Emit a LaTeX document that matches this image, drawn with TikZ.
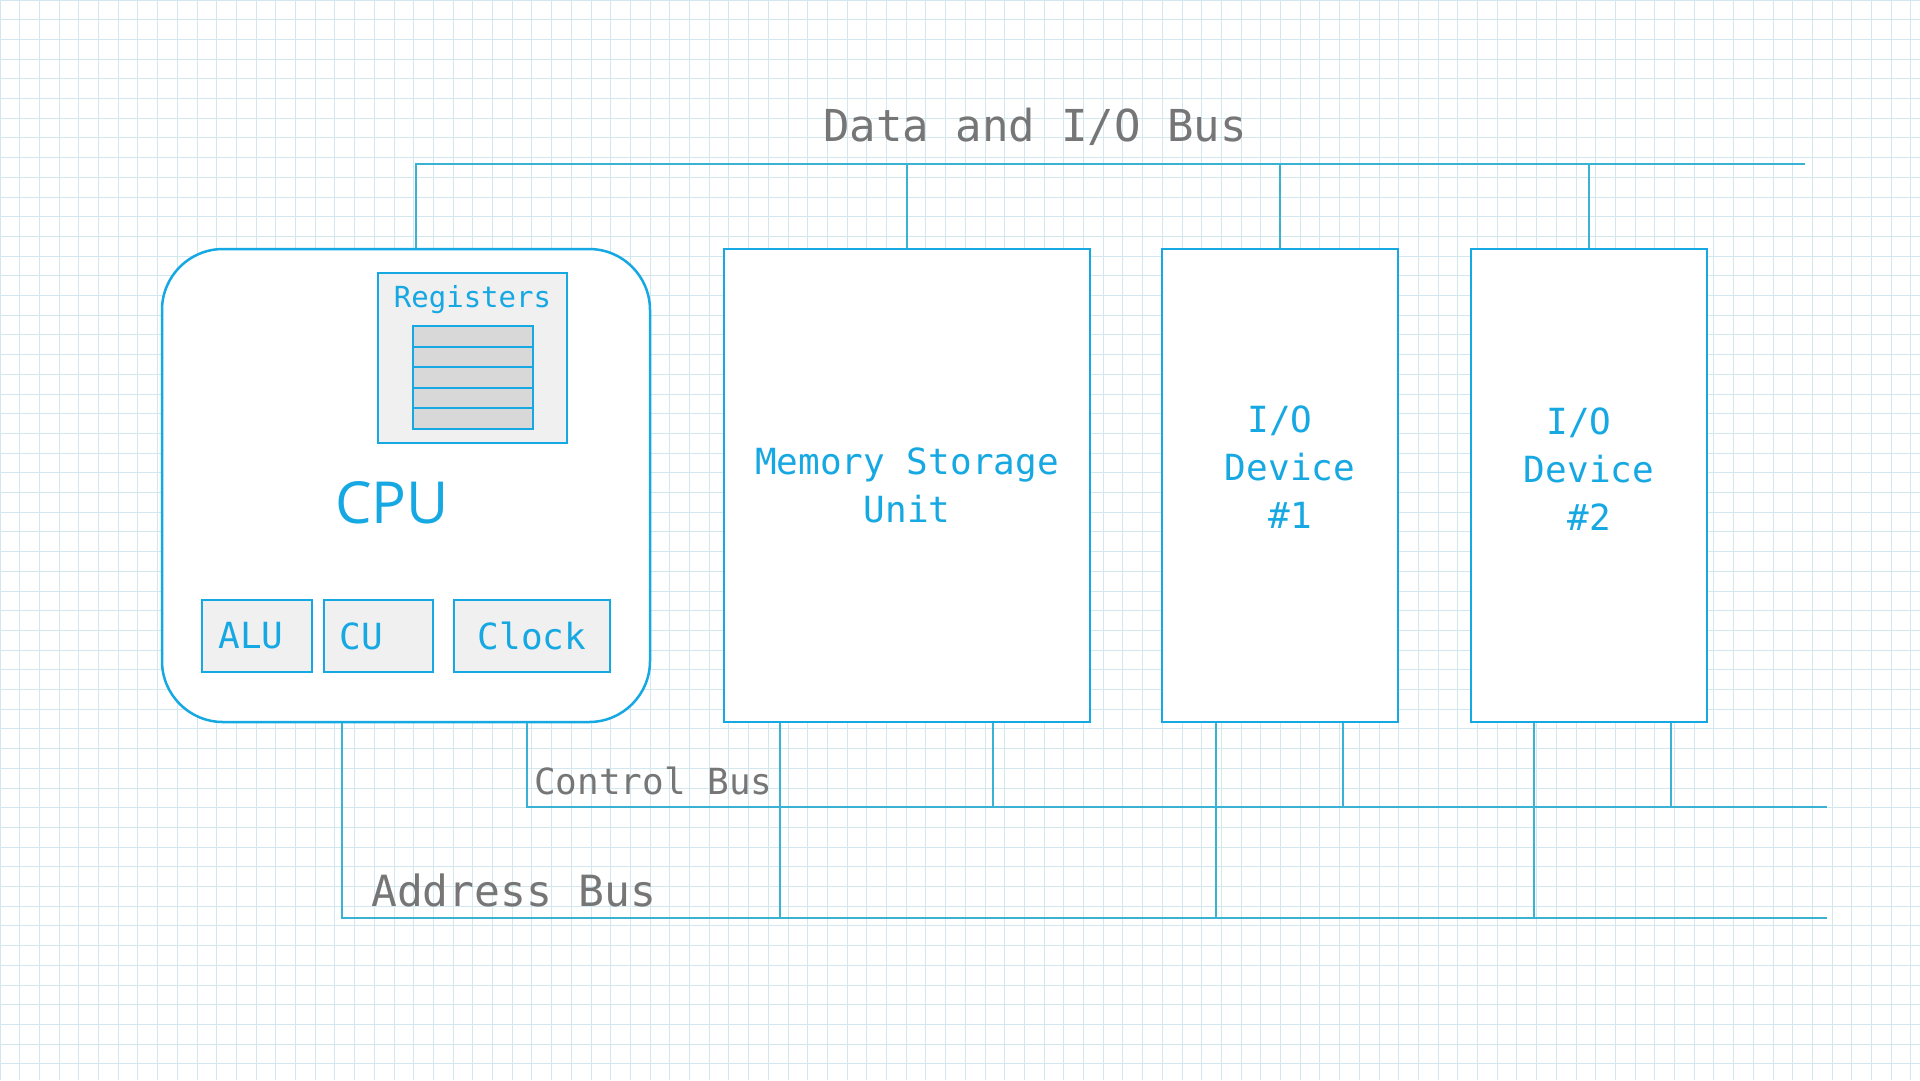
\documentclass[tikz,border=0pt]{standalone}
\usepackage{fontspec}
\setmonofont{DejaVu Sans Mono}
\newfontfamily\cpufont{Open Sans}
\usetikzlibrary{positioning}

\definecolor{busblue}{RGB}{58,178,212}
\definecolor{boxblue}{RGB}{22,168,226}
\definecolor{labelgray}{RGB}{118,118,118}
\definecolor{gridline}{RGB}{210,231,238}
\definecolor{panelgray}{RGB}{240,240,240}
\definecolor{cellgray}{RGB}{216,216,216}

\tikzset{
  unitbox/.style={draw=boxblue, line width=2.5pt, fill=white, inner sep=0pt},
  partbox/.style={draw=boxblue, line width=2.5pt, fill=panelgray, inner sep=0pt,
    minimum height=72pt, text=boxblue, font=\fontsize{36}{40}\selectfont\ttfamily},
  partlabel/.style={text=boxblue, font=\fontsize{36}{40}\selectfont\ttfamily},
  regcell/.style={draw=boxblue, line width=2pt, fill=cellgray, inner sep=0pt,
    minimum width=120pt, minimum height=20.6pt},
  unitlabel/.style={text=boxblue, align=center, font=\fontsize{36}{48}\selectfont\ttfamily},
  buslabel/.style={text=labelgray, inner sep=0pt},
  bus/.style={draw=busblue, line width=1.6pt}
}

\begin{document}
\begin{tikzpicture}[x=1pt, y=-1pt]
  \useasboundingbox (0,0) rectangle (1920,1080);
  \fill[white] (0,0) rectangle (1920,1080);
  % background grid
  \draw[gridline, line width=1pt, step=19.7pt] (0,0) grid (1920,1080);

  % CPU with its parts
  \node[unitbox, rounded corners=61pt, minimum width=488pt, minimum height=473pt] (cpu) at (406,485.5) {};
  \node[unitbox, fill=panelgray, minimum width=189pt, minimum height=170pt] (regs) at (472.5,358) {};
  \node[text=boxblue, font=\fontsize{29}{32}\selectfont\ttfamily] (regstxt) at (472.5,300) {Registers};
  \foreach \i in {0,...,4}
    \node[regcell] (reg\i) at (473,336.3+20.6*\i) {};
  \node[text=boxblue, font=\fontsize{58}{62}\selectfont\cpufont] (cputxt) at (392,503) {CPU};
  \node[partbox, minimum width=110pt, label={[partlabel, xshift=-6pt]center:ALU}] (alu) at (257,636) {};
  \node[partbox, minimum width=109pt, label={[partlabel, xshift=-17pt]center:CU}] (cu) at (378.5,636) {};
  \node[partbox, minimum width=156pt] (clock) at (532,636) {Clock};

  % memory and devices
  \node[unitbox, minimum width=366pt, minimum height=473pt] (mem) at (907,485.5) {};
  \node[unitlabel] (memtxt) at (mem.center) {Memory Storage\\Unit};
  \node[unitbox, minimum width=236pt, minimum height=473pt] (io1) at (1280,485.5) {};
  \node[unitlabel] (io1txt) at ([xshift=10pt, yshift=18pt]io1.center) {\mbox{I/O\hspace{20pt}}\\Device\\\#1};
  \node[unitbox, minimum width=236pt, minimum height=473pt] (io2) at (1589,485.5) {};
  \node[unitlabel] (io2txt) at ([yshift=16pt]io2.center) {\mbox{I/O\hspace{20pt}}\\Device\\\#2};

  % data and I/O bus
  \coordinate (dataL) at (416,164);
  \coordinate (dataR) at (1805,164);
  \draw[bus] (cpu.north -| dataL) -- (dataL) -- (dataR);
  \draw[bus] (mem.north) -- (mem.north |- dataL);
  \draw[bus] (io1.north) -- (io1.north |- dataL);
  \draw[bus] (io2.north) -- (io2.north |- dataL);
  \node[buslabel, font=\fontsize{44}{48}\selectfont\ttfamily] (datatxt) at (1035,127) {Data and I/O Bus};

  % control bus
  \coordinate (ctrlL) at (527,807);
  \coordinate (ctrlR) at (1827,807);
  \coordinate (memC) at ([xshift=86pt]mem.south);
  \coordinate (io1C) at ([xshift=63pt]io1.south);
  \coordinate (io2C) at ([xshift=82pt]io2.south);
  \draw[bus] (cpu.south -| ctrlL) -- (ctrlL) -- (ctrlR);
  \foreach \t in {memC, io1C, io2C}
    \draw[bus] (\t) -- (\t |- ctrlL);
  \node[buslabel, anchor=west, font=\fontsize{36}{40}\selectfont\ttfamily] (ctrltxt) at (534,781) {Control Bus};

  % address bus
  \coordinate (addrL) at (342,918);
  \coordinate (addrR) at (1827,918);
  \coordinate (memA) at ([xshift=-127pt]mem.south);
  \coordinate (io1A) at ([xshift=-64pt]io1.south);
  \coordinate (io2A) at ([xshift=-55pt]io2.south);
  \draw[bus] (cpu.south -| addrL) -- (addrL) -- (addrR);
  \foreach \t in {memA, io1A, io2A}
    \draw[bus] (\t) -- (\t |- addrL);
  \node[buslabel, anchor=west, font=\fontsize{43}{48}\selectfont\ttfamily] (addrtxt) at (371,890) {Address Bus};
\end{tikzpicture}
\end{document}
